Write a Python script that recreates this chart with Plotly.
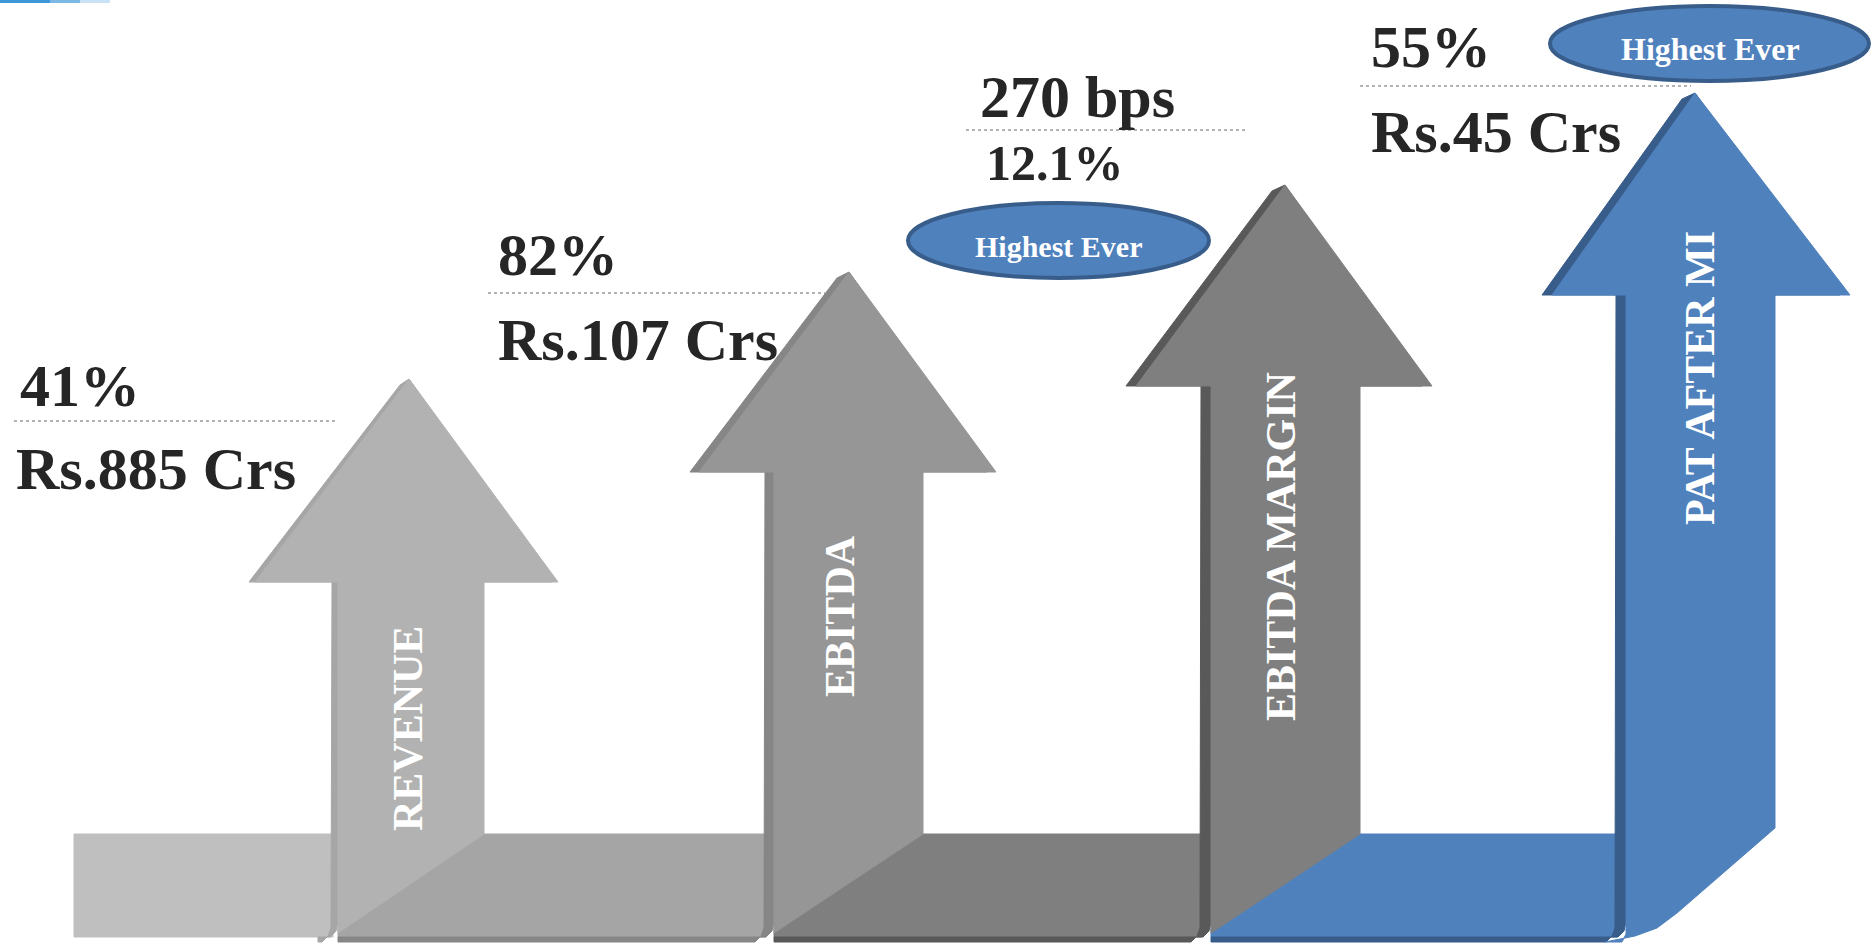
import plotly.graph_objects as go

# ---------------- data ----------------
metrics = ["REVENUE", "EBITDA", "EBITDA MARGIN", "PAT AFTER MI"]
growth = ["41%", "82%", "270 bps", "55%"]
values = ["Rs.885 Crs", "Rs.107 Crs", "12.1%", "Rs.45 Crs"]
highest_ever = [False, False, True, True]

# ---------------- layout geometry (pixels, y down) ----------------
W, H = 1874, 944
band_top, band_bot, line_bot = 834, 937, 942
band0_left = 74
shaft_L = [332, 765, 1201, 1616]
shaft_R = [484, 923, 1360, 1775]
stripe = [6, 9, 10, 10]
head_L = [249, 690, 1126, 1542]
head_R = [558, 996, 1432, 1850]
head_base = [582, 472, 386, 295]
tip_x = [409, 849, 1285, 1695]
tip_y = [379, 272, 185, 93]
main_col = ["#B2B2B2", "#969696", "#7F7F7F", "#4F81BD"]
dark_col = ["#A6A6A6", "#868686", "#595959", "#385D8A"]
band_col = ["#BFBFBF", "#A5A5A5", "#7F7F7F", "#4F81BD"]

growth_pos = [(18, 386, 60), (496, 255, 60), (978, 97, 60), (1369, 47, 60)]
value_pos = [(14, 469, 60), (496, 340, 60), (984, 163, 50), (1369, 132, 60)]
sep_lines = [(14, 337, 421), (488, 825, 293), (966, 1245, 130), (1360, 1691, 86)]
vlabel_pos = [(408, 729), (840, 616), (1281, 547), (1700, 378)]
badge_box = [None, None, (908, 203, 1209, 278), (1550, 6, 1869, 81)]
badge_text = [None, None, (1058, 246, 30), (1710, 49, 32)]

SERIF = "Liberation Serif, Times New Roman, serif"

fig = go.Figure()


def poly(pts, color):
    xs = [p[0] for p in pts] + [pts[0][0]]
    ys = [p[1] for p in pts] + [pts[0][1]]
    fig.add_trace(go.Scatter(x=xs, y=ys, mode="lines", fill="toself",
                             fillcolor=color, line=dict(color=color, width=1),
                             hoverinfo="skip", showlegend=False))


# bands (full rectangles; the folds of the shafts are painted over them)
n = len(metrics)
for i in range(n):
    x_left = band0_left if i == 0 else shaft_L[i - 1] + stripe[i - 1]
    poly([(x_left, band_top), (shaft_L[i] + 1, band_top),
          (shaft_L[i] + 1, band_bot), (x_left, band_bot)], band_col[i])

# arrows
for i in range(n):
    L, R, s = shaft_L[i], shaft_R[i], stripe[i]
    hb = head_base[i]
    # dark head edge (3D bevel on the left side)
    poly([(head_L[i], hb), (tip_x[i] - s - 3, tip_y[i] + 6), (tip_x[i], tip_y[i]),
          (head_R[i] - s, hb)], dark_col[i])
    # dark stripe + bottom line of the band to its left
    left_end = (shaft_L[i - 1] + stripe[i - 1]) if i > 0 else L - 14
    poly([(L, hb), (L + s, hb), (L + s, 922), (L + s - 2, 931), (L + s - 8, band_bot),
          (left_end, band_bot), (left_end, line_bot), (L - 10, line_bot),
          (L - 4, 936), (L - 1, 928)], dark_col[i])
    # main head
    poly([(head_L[i] + s, hb), (tip_x[i], tip_y[i]), (head_R[i], hb)], main_col[i])
    # main shaft with its fold into the band on the right
    if i < n - 1:
        pts = [(L + s, hb - 1), (R, hb - 1), (R, band_top), (L + s, band_bot - 4), (L + s, 922)]
    else:
        pts = [(L + s, hb - 1), (R, hb - 1), (R, 828), (R - 98, 913), (R - 118, 928),
               (R - 140, 936), (R - 170, line_bot), (L + s - 4, line_bot),
               (L + s, 934), (L + s, 922)]
    poly(pts, main_col[i])

annotations = []
shapes = []

# top-left swoosh decoration
for x1, op in [(110, 0.25), (80, 0.5), (50, 0.8)]:
    shapes.append(dict(type="line", xref="x", yref="y", x0=0, x1=x1, y0=1.5, y1=1.5,
                       line=dict(color="#2F8FD8", width=3), opacity=op))

for i in range(n):
    gx, gy, gs = growth_pos[i]
    annotations.append(dict(x=gx, y=gy, xref="x", yref="y", text="<b>%s</b>" % growth[i],
                            showarrow=False, xanchor="left", yanchor="middle",
                            font=dict(family=SERIF, size=gs, color="#262626")))
    vx, vy, vs = value_pos[i]
    annotations.append(dict(x=vx, y=vy, xref="x", yref="y", text="<b>%s</b>" % values[i],
                            showarrow=False, xanchor="left", yanchor="middle",
                            font=dict(family=SERIF, size=vs, color="#262626")))
    x0, x1, ly = sep_lines[i]
    shapes.append(dict(type="line", xref="x", yref="y", x0=x0, x1=x1, y0=ly, y1=ly,
                       line=dict(color="#9A9A9A", width=1.5, dash="dot")))
    lx, lyy = vlabel_pos[i]
    annotations.append(dict(x=lx, y=lyy, xref="x", yref="y", text="<b>%s</b>" % metrics[i],
                            showarrow=False, textangle=-90, xanchor="center", yanchor="middle",
                            font=dict(family=SERIF, size=42, color="white")))
    if highest_ever[i]:
        bx0, by0, bx1, by1 = badge_box[i]
        shapes.append(dict(type="circle", xref="x", yref="y", x0=bx0, y0=by0, x1=bx1, y1=by1,
                           fillcolor="#4F81BD", line=dict(color="#385D8A", width=4)))
        tx, ty, ts = badge_text[i]
        annotations.append(dict(x=tx, y=ty, xref="x", yref="y", text="<b>Highest Ever</b>",
                                showarrow=False, xanchor="center", yanchor="middle",
                                font=dict(family=SERIF, size=ts, color="white")))

fig.update_layout(
    width=W, height=H, margin=dict(l=0, r=0, t=0, b=0, pad=0),
    paper_bgcolor="white", plot_bgcolor="white",
    xaxis=dict(range=[0, W], visible=False, fixedrange=True),
    yaxis=dict(range=[H, 0], visible=False, fixedrange=True),
    shapes=shapes, annotations=annotations, showlegend=False,
)

fig.write_html("out.html", config={"displayModeBar": False})
